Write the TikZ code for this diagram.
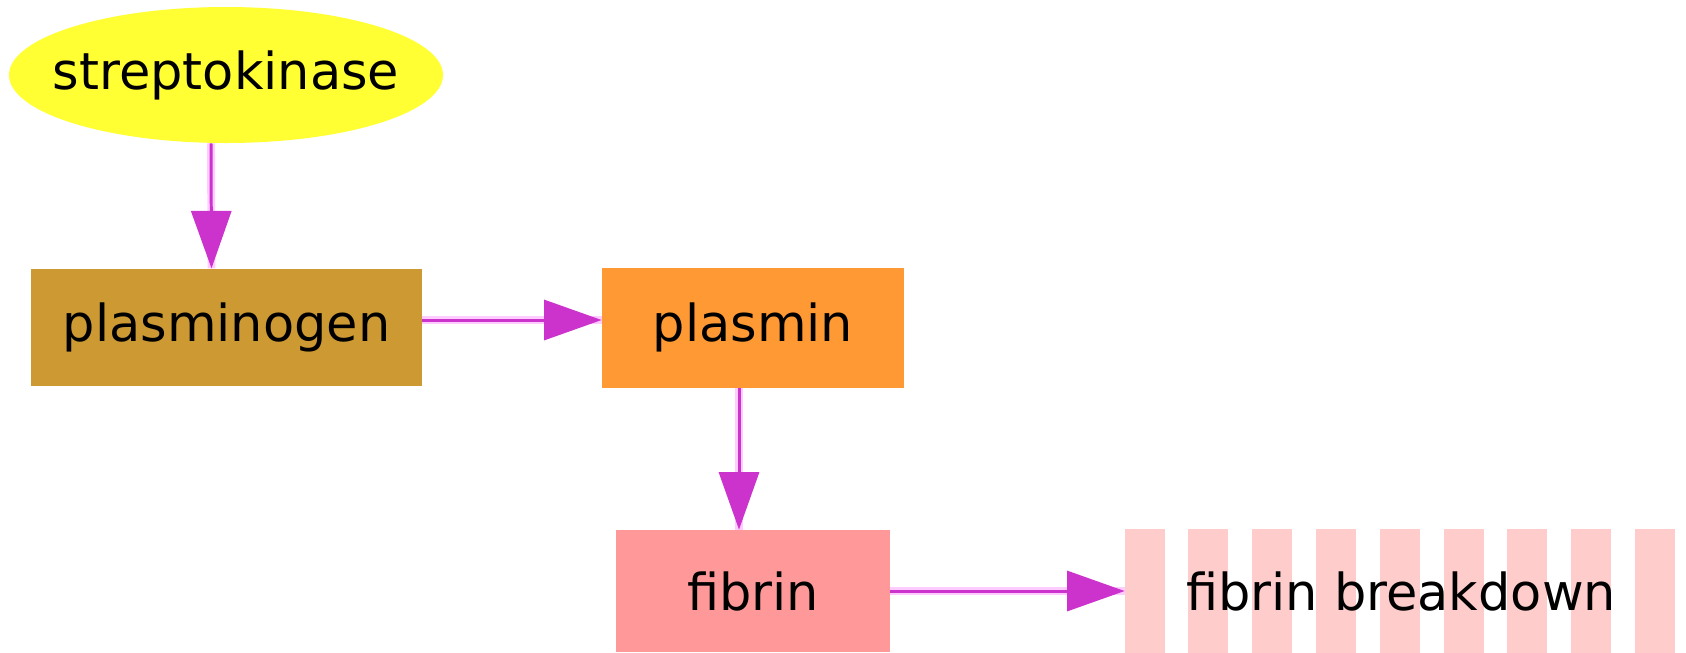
\documentclass[tikz,border=0pt]{standalone}
\usepackage{fontspec}
\setmainfont{DejaVu Sans}
\usepackage{xcolor}
\usetikzlibrary{arrows.meta,positioning,shapes.geometric,backgrounds}

\definecolor{kinasecol}{HTML}{FFFF33}
\definecolor{plasminogencol}{HTML}{CC9933}
\definecolor{plasmincol}{HTML}{FF9933}
\definecolor{fibrincol}{HTML}{FF9999}
\definecolor{stripecol}{HTML}{FFCCCC}
\definecolor{arrowcol}{HTML}{CC33CC}
\definecolor{halocol}{HTML}{FFCCFF}

\begin{document}
\begin{tikzpicture}[
    font=\fontsize{29}{34}\selectfont,
    activator/.style={ellipse, fill=kinasecol, inner xsep=-0.5cm, inner ysep=0pt,
        minimum width=8.68cm, minimum height=2.72cm},
    protein/.style={rectangle, inner sep=0pt, minimum height=2.35cm},
    product/.style={rectangle, inner sep=0pt, minimum width=11.04cm,
        minimum height=2.5cm},
    stripe/.style={fill=stripecol},
    map/.style={-{Triangle[length=1.15cm, width=0.8cm]}, draw=arrowcol,
        line width=1.7pt, preaction={draw=halocol, line width=4.5pt, -}},
]
    \useasboundingbox (0,0) rectangle (33.72,-13.04);

    \node[activator] (kinase) at (4.52,-1.50) {streptokinase};
    \node[protein, fill=plasminogencol, minimum width=7.82cm] (plasminogen) at (4.53,-6.55) {plasminogen};
    \node[protein, fill=plasmincol, minimum width=6.04cm, minimum height=2.4cm] (plasmin) at (15.06,-6.55) {plasmin};
    \node[protein, fill=fibrincol, minimum width=5.48cm, minimum height=2.44cm] (fibrin) at (15.06,-11.82) {fibrin};
    \node[product] (breakdown) at (28.02,-11.82) {fibrin breakdown};

    \begin{scope}[on background layer]
        \foreach \i in {0,...,8}
            \fill[stripe] ([xshift=\i*1.276cm]breakdown.south west) rectangle +(0.8,2.5);
    \end{scope}

    \draw[map] ([xshift=-0.3cm]kinase.south) -- ([xshift=-0.3cm]plasminogen.north);
    \draw[map] ([yshift=0.15cm]plasminogen.east) -- ([yshift=0.15cm]plasmin.west);
    \draw[map] ([xshift=-0.28cm]plasmin.south) -- ([xshift=-0.28cm]fibrin.north);
    \draw[map] (fibrin.east) -- (breakdown.west);
\end{tikzpicture}
\end{document}
